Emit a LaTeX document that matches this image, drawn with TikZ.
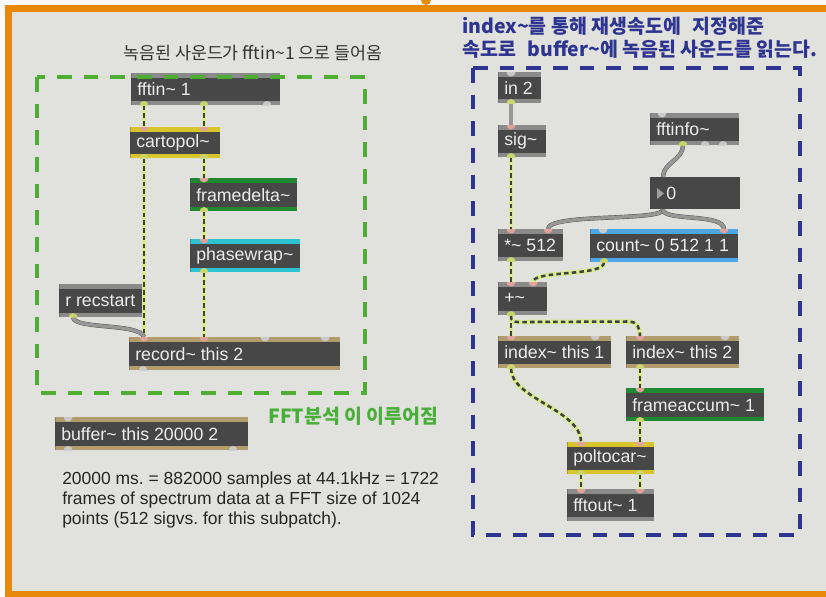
\documentclass[tikz,border=0pt]{standalone}
\usepackage{fontspec}
\setmainfont{Liberation Sans}
\newfontfamily\kr{Noto Sans CJK KR}
\usetikzlibrary{calc}
\frenchspacing
\definecolor{bggray}{HTML}{E1E1DD}
\definecolor{frameor}{HTML}{E8890C}
\definecolor{boxdark}{HTML}{474747}
\definecolor{stripgray}{HTML}{8A8A8A}
\definecolor{stripyel}{HTML}{D8C52C}
\definecolor{stripgrn}{HTML}{1F8A32}
\definecolor{stripcyan}{HTML}{2CC2CF}
\definecolor{striptan}{HTML}{B39C6C}
\definecolor{stripblue}{HTML}{4BA6EA}
\definecolor{cordyel}{HTML}{D8EC8E}
\definecolor{cordgray}{HTML}{979797}
\definecolor{dashgrn}{HTML}{4DAE32}
\definecolor{dashblue}{HTML}{2E3590}
\definecolor{txtgrn}{HTML}{4AAE3A}
\definecolor{inpink}{HTML}{E3A19C}
\definecolor{outyel}{HTML}{C9D46A}
\definecolor{portgray}{HTML}{C9C9C9}
\tikzset{
 mbox/.style={anchor=north west, fill=boxdark, inner sep=0pt, draw=none},
 mtext/.style={text=white!93!black, font=\fontsize{13.3}{15}\selectfont, inner sep=0pt},
 sigcord/.style={draw=black!75, line width=1.9pt, dash pattern=on 3.4pt off 2.4pt, preaction={draw=cordyel, line width=3.4pt, solid}},
 ctlcord/.style={draw=cordgray, line width=2.6pt, preaction={draw=gray!60!black, line width=3.2pt}},
 grnbox/.style={draw=dashgrn, line width=3pt, dash pattern=on 11pt off 9pt},
 bluebox/.style={draw=dashblue, line width=3pt, dash pattern=on 11pt off 9pt},
}
\newcommand{\mobj}[8]{%
  \node[mbox, minimum width=#4*0.75pt, minimum height=#5*0.75pt,
    path picture={\fill[#6] (path picture bounding box.north west) rectangle ([yshift=-3.5pt]path picture bounding box.north east);
                  \fill[#7] (path picture bounding box.south west) rectangle ([yshift=3.5pt]path picture bounding box.south east);}]
    (#1) at (#2,#3) {};
  \node[mtext, anchor=west] (#1-t) at ([xshift=4.5pt]#1.west) {#8};
}
\newcommand{\topport}[3]{\fill[#3] ($(#1.north west)+(#2-4.5,0)$) arc[start angle=180,end angle=360,radius=3.4pt] -- cycle;}
\newcommand{\botport}[3]{\fill[#3] ($(#1.south west)+(#2-4.5,0)$) arc[start angle=180,end angle=0,radius=3.4pt] -- cycle;}
\begin{document}
\begin{tikzpicture}[x=0.75pt,y=-0.75pt]
\useasboundingbox (0,0) rectangle (826,597);
\fill[white!96!gray] (0,0) rectangle (826,597);
\fill[frameor] (5,5) rectangle (826,597);
\fill[bggray] (12,12) rectangle (826,591);
\fill[frameor] (426,0) circle (5);

% left objects
\mobj{fftin}{131}{73}{149}{32}{stripgray}{stripgray}{fftin\string~ 1}
\mobj{cart}{130}{127}{90}{31}{stripyel}{stripyel}{cartopol\string~}
\mobj{fdelta}{190}{178}{107}{33}{stripgrn}{stripgrn}{framedelta\string~}
\mobj{pwrap}{190}{239}{110}{33}{stripcyan}{stripcyan}{phasewrap\string~}
\mobj{rrec}{59}{284}{84}{33}{stripgray}{stripgray}{r recstart}
\mobj{rec}{129}{337}{211}{33}{striptan}{striptan}{record\string~ this 2}
\mobj{buf}{55}{417}{193}{33}{striptan}{striptan}{buffer\string~ this 20000 2}

% right objects
\mobj{in2}{498}{72}{43}{31}{stripgray}{stripgray}{in 2}
\mobj{sig}{498}{125}{48}{32}{stripgray}{stripgray}{sig\string~}
\mobj{finfo}{650}{113}{89}{32}{stripgray}{stripgray}{fftinfo\string~}
\node[mbox, minimum width=90*0.75pt, minimum height=32*0.75pt] (num) at (650,177) {};
\fill[gray!75] ($(num.north west)+(7,11)$) -- ($(num.north west)+(14,16.5)$) -- ($(num.north west)+(7,22)$) -- cycle;
\node[mtext, anchor=west] (num-t) at ($(num.west)+(16,0)$) {0};
\mobj{times}{498}{229}{65}{32}{stripgray}{stripgray}{*\string~ 512}
\mobj{count}{590}{229}{148}{33}{stripblue}{stripblue}{count\string~ 0 512 1 1}
\mobj{plus}{498}{282}{49}{33}{stripgray}{stripgray}{+\string~}
\mobj{idxa}{498}{336}{113}{32}{striptan}{striptan}{index\string~ this 1}
\mobj{idxb}{626}{336}{113}{32}{striptan}{striptan}{index\string~ this 2}
\mobj{facc}{626}{388}{138}{33}{stripgrn}{stripgrn}{frameaccum\string~ 1}
\mobj{pol}{567}{442}{87}{32}{stripyel}{stripyel}{poltocar\string~}
\mobj{fout}{567}{489}{87}{32}{stripgray}{stripgray}{fftout\string~ 1}

% cords left
\draw[sigcord] ($(fftin.south west)+(13,0)$) -- ($(cart.north west)+(14,0)$);
\draw[sigcord] ($(fftin.south west)+(73,0)$) -- ($(cart.north west)+(74,0)$);
\draw[sigcord] ($(cart.south west)+(14,0)$) -- ($(rec.north west)+(15,0)$);
\draw[sigcord] ($(cart.south west)+(74,0)$) -- ($(fdelta.north west)+(14,0)$);
\draw[sigcord] ($(fdelta.south west)+(14,0)$) -- ($(pwrap.north west)+(14,0)$);
\draw[sigcord] ($(pwrap.south west)+(14,0)$) -- ($(rec.north west)+(75,0)$);
\draw[ctlcord] ($(rrec.south west)+(14,0)$) .. controls +(2,12) and +(-4,-14) .. ($(rec.north west)+(15,0)$);

% cords right
\draw[ctlcord] ($(in2.south west)+(13,0)$) -- ($(sig.north west)+(13,0)$);
\draw[sigcord] ($(sig.south west)+(13,0)$) -- ($(times.north west)+(13,0)$);
\draw[ctlcord] ($(finfo.south west)+(33,0)$) .. controls +(0,14) and +(0,-14) .. ($(num.north west)+(13,0)$);
\draw[ctlcord] ($(num.south west)+(13,0)$) .. controls +(0,12) and +(0,-16) .. ($(times.north west)+(50,0)$);
\draw[ctlcord] ($(num.south west)+(13,0)$) .. controls +(0,12) and +(0,-16) .. ($(count.north west)+(134,0)$);
\draw[sigcord] ($(times.south west)+(13,0)$) -- ($(plus.north west)+(13,0)$);
\draw[sigcord] ($(count.south west)+(14,0)$) .. controls +(0,14) and +(0,-12) .. ($(plus.north west)+(35,0)$);
\draw[sigcord] ($(plus.south west)+(13,0)$) -- ($(idxa.north west)+(13,0)$);
\draw[sigcord] ($(plus.south west)+(13,0)$) .. controls +(0,7) and +(-10,0) .. ($(plus.south west)+(26,6.5)$) -- ($(idxb.north west)+(2,-14.5)$) .. controls +(10,0) and +(0,-7) .. ($(idxb.north west)+(14,0)$);
\draw[sigcord] ($(idxa.south west)+(13,0)$) .. controls +(0,30) and +(0,-32) .. ($(pol.north west)+(14,0)$);
\draw[sigcord] ($(idxb.south west)+(14,0)$) -- ($(facc.north west)+(14,0)$);
\draw[sigcord] ($(facc.south west)+(14,0)$) -- ($(pol.north west)+(73,0)$);
\draw[sigcord] ($(pol.south west)+(14,0)$) -- ($(fout.north west)+(14,0)$);
\draw[sigcord] ($(pol.south west)+(73,0)$) -- ($(fout.north west)+(73,0)$);

% connected ports
\botport{fftin}{13}{outyel}\botport{fftin}{73}{outyel}
\topport{cart}{14}{inpink}\topport{cart}{74}{inpink}
\botport{cart}{14}{outyel}\botport{cart}{74}{outyel}
\topport{fdelta}{14}{inpink}\botport{fdelta}{14}{outyel}
\topport{pwrap}{14}{inpink}\botport{pwrap}{14}{outyel}
\topport{rec}{15}{inpink}\topport{rec}{75}{inpink}
\botport{rrec}{14}{outyel}
\botport{in2}{13}{outyel}
\topport{sig}{13}{inpink}\botport{sig}{13}{outyel}
\botport{finfo}{33}{outyel}
\topport{times}{13}{inpink}\topport{times}{50}{inpink}\botport{times}{13}{outyel}
\topport{count}{134}{inpink}\botport{count}{14}{outyel}
\topport{plus}{13}{inpink}\topport{plus}{35}{inpink}\botport{plus}{13}{outyel}
\topport{idxa}{13}{inpink}\botport{idxa}{13}{outyel}
\topport{idxb}{14}{inpink}\botport{idxb}{14}{outyel}
\topport{facc}{14}{inpink}\botport{facc}{14}{outyel}
\topport{pol}{14}{inpink}\topport{pol}{73}{inpink}
\botport{pol}{14}{outyel}\botport{pol}{73}{outyel}
\topport{fout}{14}{inpink}\topport{fout}{73}{inpink}
% unconnected ports
\botport{fftin}{136}{portgray}
\topport{rec}{136}{portgray}\topport{rec}{196}{portgray}\botport{rec}{14}{portgray}
\topport{buf}{13}{portgray}\botport{buf}{13}{portgray}\botport{buf}{178}{portgray}
\topport{in2}{13}{portgray}
\topport{finfo}{12}{portgray}\botport{finfo}{55}{portgray}\botport{finfo}{73}{portgray}
\topport{count}{13}{portgray}
\topport{idxa}{97}{portgray}\topport{idxb}{99}{portgray}

% dashed group frames
\draw[grnbox] (37,77) rectangle (365,393);
\draw[bluebox] (473,68) rectangle (800,535);

% texts
\node[font=\kr\fontsize{13}{15}\selectfont, text=black!80, inner sep=0pt] (hdrL) at (253,53) {녹음된 사운드가 fftin\string~1 으로 들어옴};
\node[anchor=west, font=\kr\bfseries\fontsize{14.6}{16}\selectfont, text=dashblue, inner sep=0pt] (hdrR1) at (462,26) {index\string~를 통해 재생속도에\hspace{0.6em}지정해준};
\node[anchor=west, font=\kr\bfseries\fontsize{14.6}{16}\selectfont, text=dashblue, inner sep=0pt] (hdrR2) at (462,49) {속도로\hspace{0.6em}buffer\string~에 녹음된 사운드를 읽는다.};
\node[anchor=west, font=\kr\bfseries\fontsize{14.6}{16}\selectfont, text=txtgrn, inner sep=0pt] (fftlbl) at (268,416) {FFT분석 이 이루어짐};
\node[anchor=north west, align=left, inner sep=0pt, font=\fontsize{13.1}{15}\selectfont, text=black!85] (note) at (62,472) {20000 ms. = 882000 samples at 44.1kHz = 1722\\frames of spectrum data at a FFT size of 1024\\points (512 sigvs. for this subpatch).};
\end{tikzpicture}
\end{document}
